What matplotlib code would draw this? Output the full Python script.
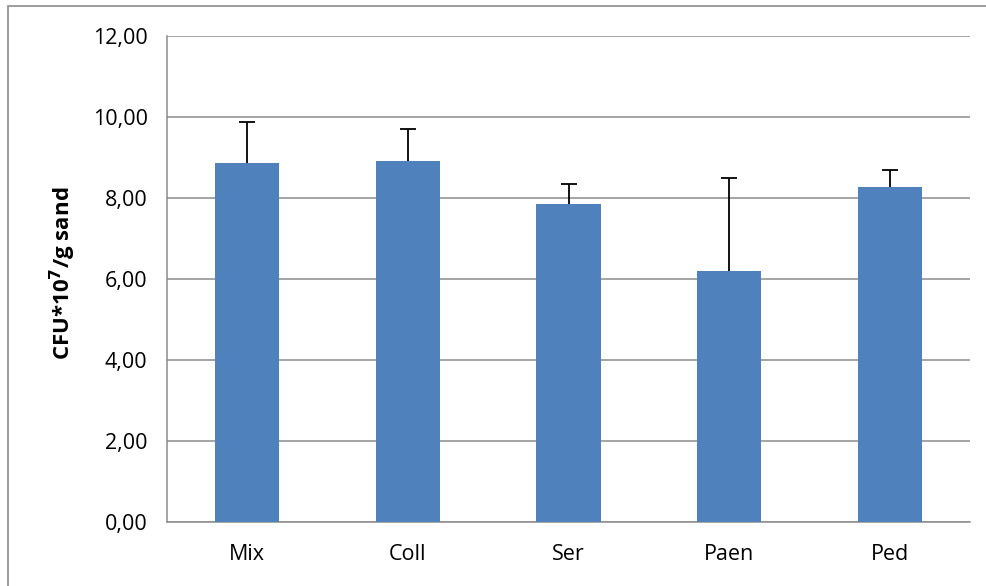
import matplotlib
matplotlib.use("Agg")
import numpy as np
import matplotlib.pyplot as plt
from matplotlib.patches import Rectangle
from matplotlib.ticker import FuncFormatter

categories = ["Mix", "Coll", "Ser", "Paen", "Ped"]
means = [8.87, 8.91, 7.84, 6.20, 8.26]
upper_err = [1.00, 0.79, 0.50, 2.30, 0.42]

W, H = 986, 586
fig = plt.figure(figsize=(W / 100, H / 100), dpi=100)
plt.rcParams['font.family'] = ['Open Sans', 'DejaVu Sans']

# outer chart border (right/bottom edges lie outside the image)
fig.patches.append(Rectangle((8 / W, -0.05), 1.1, (H - 6) / H + 0.05,
                             transform=fig.transFigure, fill=False,
                             edgecolor='#8c8c8c', linewidth=1.2))

left, right, top, bottom = 167, 970, 36, 522
ax = fig.add_axes([left / W, 1 - bottom / H, (right - left) / W, (bottom - top) / H])

x = list(range(len(categories)))
ax.bar(x, means, width=0.4, color='#4F81BD', zorder=3)
_, caplines, _ = ax.errorbar(x, means, yerr=[[0] * len(means), upper_err], fmt='none',
                             ecolor='black', elinewidth=1.3, capsize=5.5, capthick=1.3,
                             zorder=4)
for cl in caplines:
    if np.allclose(np.asarray(cl.get_ydata(), dtype=float), means):
        cl.set_visible(False)

ax.set_xlim(-0.5, len(categories) - 0.5)
ax.set_ylim(0, 12)
ax.set_yticks([0, 2, 4, 6, 8, 10, 12])
ax.yaxis.set_major_formatter(FuncFormatter(lambda v, p: f"{v:.2f}".replace('.', ',')))
ax.set_xticks(x)
ax.set_xticklabels(categories)
ax.grid(axis='y', color='#8c8c8c', linewidth=1.1, zorder=0)
ax.tick_params(axis='both', length=0, labelsize=15.5, colors='black')
ax.tick_params(axis='x', pad=16)
ax.tick_params(axis='y', pad=14)
for s in ['top', 'right']:
    ax.spines[s].set_visible(False)
for s in ['left', 'bottom']:
    ax.spines[s].set_color('#8c8c8c')
    ax.spines[s].set_linewidth(1.1)

fig.text(63 / W, 1 - 273 / H, r"CFU*10$^{\mathbf{7}}$/g sand", rotation=90,
         ha='center', va='center', fontsize=16, fontweight='bold')

fig.savefig("out.png", dpi=100)
